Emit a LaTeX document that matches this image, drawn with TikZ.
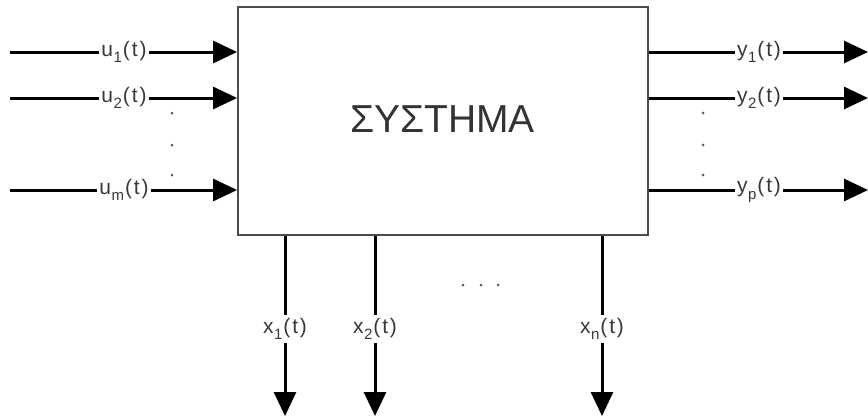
\documentclass[tikz,border=0pt]{standalone}
\usepackage{fontspec}
\setmainfont{Liberation Sans}
\usetikzlibrary{arrows.meta}
\newcommand{\sgl}[2]{#1\kern0.5pt\raisebox{-0.32em}{\fontsize{15}{15}\selectfont #2}\kern1pt(t)}
\begin{document}
\begin{tikzpicture}[x=1pt,y=-1pt,
  sig/.style={line width=3pt, draw=black},
  arr/.style={sig, -{Triangle[length=24pt,width=22pt]}},
  lbl/.style={font=\fontsize{21}{23}\selectfont\addfontfeature{LetterSpace=9}, text=black!78, inner sep=2pt},
  dotc/.style={circle, fill=black!65, inner sep=0pt, minimum size=3pt},
  sysbox/.style={draw=black!70, line width=1.8pt, minimum width=410pt, minimum height=228pt, inner sep=0pt}]
\useasboundingbox (0,0) rectangle (868,418);
% system block
\node[sysbox] (sys) at (443,121) {};
\node[font=\fontsize{39}{42}\selectfont, text=black!80] (title) at (442.5,119) {ΣΥΣΤΗΜΑ};
% inputs
\coordinate (us1) at (10,52);
\coordinate (us2) at (10,98);
\coordinate (us3) at (10,190);
\node[lbl] (u1) at (124,52) {\sgl{u}{1}};
\node[lbl] (u2) at (124,98) {\sgl{u}{2}};
\node[lbl] (um) at (124,190) {\sgl{u}{m}};
\draw[sig] (us1) -- (u1.west);
\draw[sig] (us2) -- (u2.west);
\draw[sig] (us3) -- (um.west);
\draw[arr] (u1.east) -- (sys.west |- u1);
\draw[arr] (u2.east) -- (sys.west |- u2);
\draw[arr] (um.east) -- (sys.west |- um);
\node[dotc] (ud1) at (172,113) {};
\node[dotc] (ud2) at (172,145) {};
\node[dotc] (ud3) at (172,175) {};
% outputs
\coordinate (ye1) at (868,52);
\coordinate (ye2) at (868,98);
\coordinate (ye3) at (868,190);
\node[lbl] (y1) at (759,52) {\sgl{y}{1}};
\node[lbl] (y2) at (759,98) {\sgl{y}{2}};
\node[lbl] (yp) at (759,190) {\sgl{y}{p}};
\draw[sig] (sys.east |- y1) -- (y1.west);
\draw[sig] (sys.east |- y2) -- (y2.west);
\draw[sig] (sys.east |- yp) -- (yp.west);
\draw[arr] (y1.east) -- (ye1);
\draw[arr] (y2.east) -- (ye2);
\draw[arr] (yp.east) -- (ye3);
\node[dotc] (yd1) at (703,113) {};
\node[dotc] (yd2) at (703,145) {};
\node[dotc] (yd3) at (703,175) {};
% states
\node[lbl, inner sep=3pt] (x1) at (285,329) {\sgl{x}{1}};
\node[lbl, inner sep=3pt] (x2) at (375,329) {\sgl{x}{2}};
\node[lbl, inner sep=3pt] (xn) at (602,329) {\sgl{x}{n}};
\coordinate (xe1) at (285,416);
\coordinate (xe2) at (375,416);
\coordinate (xe3) at (602,416);
\draw[sig] (sys.south -| x1) -- (x1.north);
\draw[sig] (sys.south -| x2) -- (x2.north);
\draw[sig] (sys.south -| xn) -- (xn.north);
\draw[arr] (x1.south) -- (xe1);
\draw[arr] (x2.south) -- (xe2);
\draw[arr] (xn.south) -- (xe3);
\node[dotc] (xd1) at (463,285) {};
\node[dotc] (xd2) at (481,285) {};
\node[dotc] (xd3) at (498,285) {};
\end{tikzpicture}
\end{document}
